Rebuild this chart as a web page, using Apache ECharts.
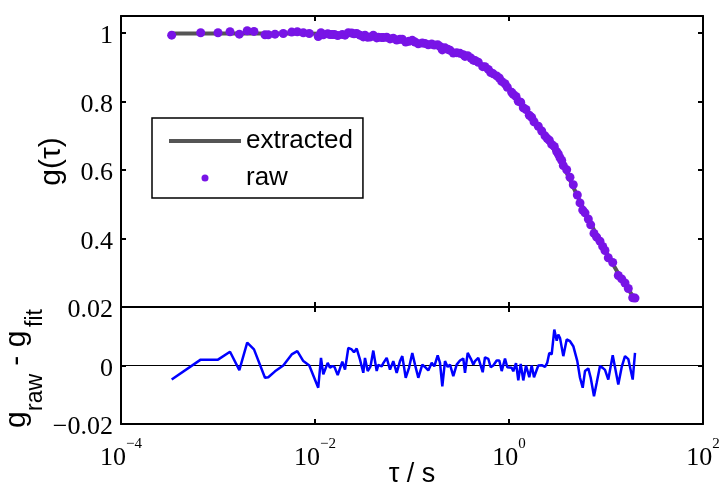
<!DOCTYPE html>
<html>
<head>
<meta charset="utf-8">
<script src="https://cdn.jsdelivr.net/npm/echarts@6/dist/echarts.min.js"></script>
<style>
html, body { margin: 0; padding: 0; background: #fff; }
#chart { width: 722px; height: 483px; }
</style>
</head>
<body>
<div id="chart"></div>
<script>
// lag time tau (s), shared by all three series
var tau = [
  3.33e-4, 6.63e-4, 1.0e-3, 1.33e-3, 1.66e-3, 2.0e-3, 2.35e-3, 3.05e-3, 3.30e-3, 3.87e-3,
  4.71e-3, 5.75e-3, 6.57e-3, 7.58e-3, 8.73e-3, 0.0108, 0.01153, 0.01218, 0.01352, 0.01428,
  0.01509, 0.01589, 0.01714, 0.01912, 0.02039, 0.02205, 0.0239, 0.02524, 0.02691, 0.0291,
  0.03147, 0.03276, 0.03494, 0.03735, 0.0399, 0.04326, 0.04494, 0.04871, 0.0506, 0.05485,
  0.05932, 0.06414, 0.06956, 0.07521, 0.07943, 0.08612, 0.09314, 0.1007, 0.1074, 0.1161,
  0.1277, 0.1361, 0.1472, 0.1596, 0.1698, 0.184, 0.1944, 0.2053, 0.2189, 0.2333,
  0.2465, 0.2666, 0.2888, 0.3124, 0.3379, 0.3518, 0.3752, 0.4057, 0.4285, 0.4462,
  0.4825, 0.5357, 0.5657, 0.6118, 0.6477, 0.6888, 0.7466, 0.7943, 0.8408, 0.9095,
  0.9605, 1.066, 1.107, 1.181, 1.247, 1.32, 1.404, 1.497, 1.619, 1.714,
  1.81, 2.005, 2.174, 2.35, 2.482, 2.603, 2.755, 2.931, 3.103, 3.222,
  3.357, 3.495, 3.63, 3.933, 4.255, 4.601, 5.06, 5.395, 5.752, 6.074,
  6.569, 6.954, 7.521, 8.018, 8.672, 9.247, 9.766, 10.56, 11.73, 13.39,
  14.52, 15.7, 16.98, 18.85, 19.91
];
// measured g(tau)
var gRaw = [
  0.994, 1.001, 1.001, 1.004, 0.997, 1.007, 1.005, 0.995, 0.995, 0.997,
  0.999, 1.003, 1.004, 1.001, 0.999, 0.990, 1.001, 0.995, 0.998, 0.996,
  0.996, 0.996, 0.993, 0.996, 0.994, 1.001, 1.000, 0.998, 0.999, 0.994,
  0.989, 0.994, 0.988, 0.989, 0.994, 0.986, 0.988, 0.987, 0.987, 0.988,
  0.983, 0.985, 0.980, 0.982, 0.982, 0.974, 0.976, 0.979, 0.974, 0.969,
  0.971, 0.970, 0.966, 0.968, 0.965, 0.966, 0.961, 0.951, 0.957, 0.953,
  0.950, 0.942, 0.943, 0.941, 0.937, 0.932, 0.934, 0.927, 0.921, 0.920,
  0.915, 0.902, 0.902, 0.894, 0.885, 0.881, 0.875, 0.869, 0.859, 0.852,
  0.842, 0.827, 0.821, 0.815, 0.801, 0.798, 0.782, 0.777, 0.760, 0.754,
  0.741, 0.728, 0.714, 0.700, 0.692, 0.687, 0.675, 0.669, 0.654, 0.647,
  0.636, 0.628, 0.613, 0.601, 0.579, 0.557, 0.527, 0.504, 0.483, 0.475,
  0.457, 0.440, 0.415, 0.404, 0.392, 0.377, 0.365, 0.344, 0.330, 0.292,
  0.282, 0.270, 0.254, 0.227, 0.226
];
// extracted (fitted) g(tau)
var gFit = [
  0.999, 0.999, 0.999, 0.999, 0.999, 0.999, 0.999, 0.999, 0.999, 0.999,
  0.999, 0.999, 0.999, 0.999, 0.999, 0.998, 0.998, 0.998, 0.997, 0.997,
  0.996, 0.996, 0.996, 0.995, 0.995, 0.995, 0.994, 0.993, 0.993, 0.992,
  0.991, 0.991, 0.990, 0.989, 0.989, 0.988, 0.988, 0.987, 0.986, 0.985,
  0.984, 0.983, 0.982, 0.980, 0.979, 0.978, 0.977, 0.975, 0.974, 0.973,
  0.971, 0.970, 0.968, 0.967, 0.965, 0.962, 0.960, 0.958, 0.955, 0.953,
  0.950, 0.946, 0.943, 0.939, 0.935, 0.934, 0.930, 0.925, 0.921, 0.918,
  0.912, 0.904, 0.899, 0.892, 0.886, 0.881, 0.873, 0.867, 0.861, 0.850,
  0.843, 0.828, 0.823, 0.814, 0.806, 0.797, 0.787, 0.777, 0.764, 0.754,
  0.745, 0.728, 0.714, 0.700, 0.691, 0.683, 0.671, 0.657, 0.645, 0.636,
  0.627, 0.618, 0.610, 0.592, 0.571, 0.550, 0.525, 0.508, 0.491, 0.477,
  0.458, 0.444, 0.425, 0.410, 0.392, 0.378, 0.366, 0.349, 0.326, 0.298,
  0.282, 0.267, 0.252, 0.232, 0.222
];
// residual g_raw - g_fit
var resid = [
  -0.0048, 0.0020, 0.0020, 0.0047, -0.0016, 0.0078, 0.0055, -0.0042, -0.0040, -0.0020,
  0.0000, 0.0038, 0.0049, 0.0015, 0.0000, -0.0076, 0.0026, -0.0030, 0.0009, -0.0008,
  -0.0002, -0.0005, -0.0033, 0.0013, -0.0014, 0.0060, 0.0055, 0.0045, 0.0058, 0.0020,
  -0.0025, 0.0026, -0.0019, -0.0003, 0.0051, -0.0019, 0.0002, -0.0003, 0.0008, 0.0026,
  -0.0014, 0.0015, -0.0025, 0.0015, 0.0032, -0.0042, -0.0008, 0.0043, 0.0003, -0.0042,
  0.0003, -0.0005, -0.0017, 0.0009, -0.0003, 0.0035, 0.0009, -0.0071, 0.0015, -0.0005,
  0.0003, -0.0036, 0.0003, 0.0017, 0.0024, -0.0025, 0.0043, 0.0022, 0.0003, 0.0015,
  0.0026, -0.0023, 0.0028, 0.0023, -0.0006, 0.0000, 0.0017, 0.0017, -0.0019, 0.0024,
  -0.0006, -0.0008, -0.0020, 0.0008, -0.0051, 0.0005, -0.0051, 0.0000, -0.0040, 0.0000,
  -0.0040, 0.0000, 0.0001, -0.0005, 0.0010, 0.0043, 0.0038, 0.0123, 0.0085, 0.0106,
  0.0094, 0.0100, 0.0032, 0.0089, 0.0083, 0.0066, 0.0015, -0.0042, -0.0076, -0.0019,
  -0.0010, -0.0042, -0.0105, -0.0059, -0.0002, -0.0008, -0.0015, -0.0048, 0.0035, -0.0065,
  -0.0005, 0.0032, 0.0022, -0.0048, 0.0043
];

// tick labels
var xTickVals = [1e-4, 1e-2, 1, 1e2];
var xTickExp = ['\u22124', '\u22122', '0', '2'];
var yTopVals = [0.4, 0.6, 0.8, 1];
var yTopLabels = ['0.4', '0.6', '0.8', '1'];
var yResVals = [-0.02, 0, 0.02];
var yResLabels = ['\u22120.02', '0', '0.02'];

var serif = 'Liberation Serif';
var sans = 'Liberation Sans';

function pairs(vals) {
    return tau.map(function (t, i) { return [t, vals[i]]; });
}
function lookup(vals, labels, v, tol) {
    for (var i = 0; i < vals.length; i++) {
        if (Math.abs(vals[i] - v) < tol) return '{a|' + labels[i] + '}';
    }
    return '';
}

var boxLine = { show: true, onZero: false, lineStyle: { color: '#000', width: 2 } };
var boxTick = { show: true, inside: true, length: 5, lineStyle: { color: '#000', width: 2 } };
// y tick labels sit a few px below their ticks in the original
var yLabelRich = { a: { fontFamily: serif, fontSize: 26, color: '#000', padding: [7, 0, 0, 0] } };

function xAxisFor(grid, pos, withLabels) {
    var ax = {
        type: 'log', logBase: 10, gridIndex: grid, position: pos,
        min: 1e-4, max: 1e2, interval: 2,
        axisLine: boxLine, axisTick: boxTick,
        splitLine: { show: false }, minorTick: { show: false },
        axisLabel: { show: false }
    };
    if (withLabels) {
        ax.axisLabel = {
            show: true, margin: 13,
            formatter: function (v) {
                var e = '';
                for (var i = 0; i < xTickVals.length; i++) {
                    if (Math.abs(Math.log10(v) - Math.log10(xTickVals[i])) < 1e-6) e = xTickExp[i];
                }
                return '{b|10}{e|' + e + '}';
            },
            rich: {
                b: { fontFamily: serif, fontSize: 26, color: '#000', lineHeight: 34, verticalAlign: 'bottom' },
                e: { fontFamily: serif, fontSize: 15, color: '#000', lineHeight: 12, verticalAlign: 'top' }
            }
        };
        ax.name = '\u03c4 / s';
        ax.nameLocation = 'middle';
        ax.nameGap = 37;
        ax.nameMoveOverlap = false;
        ax.nameTextStyle = { fontFamily: sans, fontSize: 27, color: '#000' };
    }
    return ax;
}

function txt(s, x, y, size) {
    return {
        type: 'text', x: x, y: y,
        style: {
            text: s, fill: '#000', fontFamily: sans, fontSize: size,
            align: 'left', verticalAlign: 'middle', textAlign: 'left', textVerticalAlign: 'middle'
        }
    };
}

var chart = echarts.init(document.getElementById('chart'), null, { renderer: 'canvas' });
chart.setOption({
    animation: false,
    backgroundColor: '#fff',
    grid: [
        { left: 121, top: 16, width: 582, height: 291, containLabel: false, outerBoundsMode: 'none' },
        { left: 121, top: 307, width: 582, height: 117, containLabel: false, outerBoundsMode: 'none' }
    ],
    legend: {
        orient: 'vertical', left: 152, top: 118,
        data: [
            { name: 'extracted', itemStyle: { opacity: 0 }, lineStyle: { color: '#555555', width: 4 } },
            { name: 'raw' }
        ],
        itemWidth: 72, itemHeight: 7, itemGap: 7,
        padding: [8, 10, 5, 15],
        borderColor: '#000', borderWidth: 1.5, backgroundColor: '#fff',
        textStyle: { fontFamily: sans, fontSize: 26, color: '#000', lineHeight: 30 }
    },
    // residual axis title g_raw - g_fit, rotated, with real subscripts
    graphic: [{
        type: 'group', x: 27, y: 428, rotation: Math.PI / 2,
        children: [
            txt('g', 0, -10.5, 30),
            txt('raw', 17, 8.5, 23),
            txt(' - g', 54, -10.5, 30),
            txt('fit', 101, 8.5, 23)
        ]
    }],
    xAxis: [
        xAxisFor(0, 'bottom', false),
        xAxisFor(0, 'top', false),
        xAxisFor(1, 'bottom', true),
        xAxisFor(1, 'top', false)
    ],
    yAxis: [
        {
            type: 'value', gridIndex: 0, position: 'left',
            min: 0.2, max: 1.05, interval: 0.2,
            axisLine: boxLine, axisTick: boxTick, splitLine: { show: false },
            axisLabel: {
                margin: 8, rich: yLabelRich,
                formatter: function (v) { return lookup(yTopVals, yTopLabels, v, 1e-6); }
            },
            name: 'g(\u03c4)', nameLocation: 'middle', nameGap: 53, nameMoveOverlap: false,
            nameTextStyle: { fontFamily: sans, fontSize: 30, color: '#000', lineHeight: 32 }
        },
        {
            type: 'value', gridIndex: 0, position: 'right',
            min: 0.2, max: 1.05, interval: 0.2,
            axisLine: boxLine, axisTick: boxTick, splitLine: { show: false },
            axisLabel: { show: false }
        },
        {
            type: 'value', gridIndex: 1, position: 'left',
            min: -0.02, max: 0.02, interval: 0.02,
            axisLine: boxLine, axisTick: boxTick,
            splitLine: { show: true, lineStyle: { color: '#000', width: 1 } },
            axisLabel: {
                margin: 8, rich: yLabelRich,
                formatter: function (v) { return lookup(yResVals, yResLabels, v, 1e-8); }
            }
        },
        {
            type: 'value', gridIndex: 1, position: 'right',
            min: -0.02, max: 0.02, interval: 0.02,
            axisLine: boxLine, axisTick: boxTick, splitLine: { show: false },
            axisLabel: { show: false }
        }
    ],
    series: [
        {
            name: 'extracted', type: 'line', xAxisIndex: 0, yAxisIndex: 0,
            data: pairs(gFit), showSymbol: false, symbol: 'none',
            lineStyle: { color: '#555555', width: 4 }, itemStyle: { color: '#555555' },
            z: 2
        },
        {
            name: 'raw', type: 'scatter', xAxisIndex: 0, yAxisIndex: 0,
            data: pairs(gRaw), symbol: 'circle', symbolSize: 9,
            itemStyle: { color: '#7814e6', opacity: 1 },
            z: 3
        },
        {
            name: 'residual', type: 'line', xAxisIndex: 2, yAxisIndex: 2,
            data: pairs(resid), showSymbol: false, symbol: 'none',
            lineStyle: { color: '#0000ff', width: 2.5 },
            z: 3
        }
    ]
});
</script>
</body>
</html>
